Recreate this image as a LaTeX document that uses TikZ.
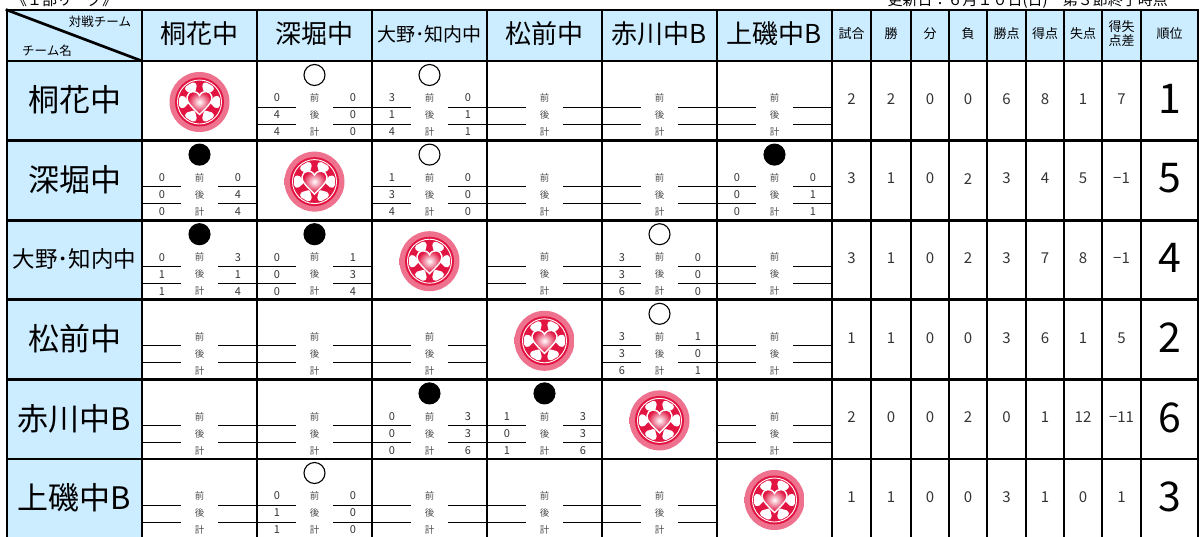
\documentclass[tikz,border=0pt]{standalone}
\usepackage{fontspec}
\setmainfont{Noto Sans CJK JP}
\usepackage{xcolor}
\usepackage{tikz}

\definecolor{headblue}{RGB}{204,236,255}
\definecolor{ballred}{RGB}{226,20,66}

\pgfdeclareradialshading{ballglow}{\pgfpoint{0bp}{0bp}}{%
  color(0bp)=(ballred!60); color(38bp)=(ballred!60); color(41bp)=(ballred!35); color(50bp)=(white)}
\pgfdeclareradialshading{heartglow}{\pgfpoint{0bp}{0bp}}{%
  color(0bp)=(white); color(8bp)=(ballred!35); color(22bp)=(ballred); color(50bp)=(ballred)}

% labels and rules of one match cell
\newcommand{\blankcell}[2]{%
  \pgfmathsetmacro\cellL{142+115*(#1-1)}
  \pgfmathsetmacro\cellT{61+79.6*(#2-1)}
  \node[halflbl] (p#1#2) at (\cellL+57.5,\cellT+37) {前};
  \node[halflbl] (q#1#2) at (\cellL+57.5,\cellT+54) {後};
  \node[halflbl] (t#1#2) at (\cellL+57.5,\cellT+71) {計};
  \draw[scoreline] (\cellL,\cellT+46) -- ++(39,0) (\cellL+76,\cellT+46) -- ++(39,0);
  \draw[scoreline] (\cellL,\cellT+63) -- ++(39,0) (\cellL+76,\cellT+63) -- ++(39,0);
}
% col, row, mark colour, then first half / second half / total
\newcommand{\scorecell}[9]{%
  \blankcell{#1}{#2}
  \node[resultmark, fill=#3] (mk#1#2) at (\cellL+57.5,\cellT+14) {};
  \node[scorenum] (a#1#2) at (\cellL+20,\cellT+37) {#4};
  \node[scorenum] (b#1#2) at (\cellL+96,\cellT+37) {#5};
  \node[scorenum] (c#1#2) at (\cellL+20,\cellT+54) {#6};
  \node[scorenum] (d#1#2) at (\cellL+96,\cellT+54) {#7};
  \node[scorenum] (e#1#2) at (\cellL+20,\cellT+71) {#8};
  \node[scorenum] (f#1#2) at (\cellL+96,\cellT+71) {#9};
}
\newcommand{\soccerball}[3]{%
  \begin{scope}[shift={(#2,#3)}]
    \coordinate (#1) at (0,0);
    \shade[shading=ballglow] (0,0) circle (30);
    \fill[ballred] (0,0) circle (24.5);
    \draw[white, line width=0.9pt] (0,0) circle (22);
    \foreach \a in {0,60,...,300}
      \fill[white, rounded corners=1.5pt] (\a:9.5) -- (\a-22:17.5) -- (\a-14:21) -- (\a+14:21) -- (\a+22:17.5) -- cycle;
    \shadedraw[shading=heartglow, draw=white, line width=1.4pt]
      (0,12.5) .. controls (-6,6.5) and (-13.5,0) .. (-12.5,-5)
      .. controls (-11.5,-11.5) and (-3,-12.5) .. (0,-6.5)
      .. controls (3,-12.5) and (11.5,-11.5) .. (12.5,-5)
      .. controls (13.5,0) and (6,6.5) .. (0,12.5) -- cycle;
  \end{scope}}

\begin{document}
\begin{tikzpicture}[x=1pt,y=-1pt,
    gridline/.style={line width=2.7pt, line cap=rect},
    scoreline/.style={line width=0.9pt},
    halflbl/.style={font=\fontsize{9.5}{9.5}\selectfont, text=black!70, inner sep=0pt},
    scorenum/.style={font=\fontsize{11}{11}\selectfont, text=black!80, inner sep=0pt},
    resultmark/.style={circle, draw, line width=1.1pt, minimum size=21pt, inner sep=0pt},
    statnum/.style={font=\fontsize{15}{15}\selectfont, text=black!80, inner sep=0pt},
    ranknum/.style={font=\fontsize{41}{41}\selectfont, inner sep=0pt},
    stathead/.style={font=\fontsize{13}{14}\selectfont, align=center, inner sep=0pt}]
  \useasboundingbox (0,0) rectangle (1200,536);
  \clip (0,0) rectangle (1200,536);
  \tikzstyle{toptext}=[font=\fontsize{15}{15}\selectfont, inner sep=0pt]

  % clipped caption line
  \node[toptext, anchor=base west] (league) at (12,5) {《１部リーグ》};
  \node[toptext, anchor=base east] (update) at (1168,5) {更新日：６月１０日(日)　第３節終了時点};

  % shaded header row and name column
  \fill[headblue] (7,10) rectangle (1198,61);
  \fill[headblue] (7,61) rectangle (142,538.6);

  \node[font=\fontsize{12.5}{12.5}\selectfont, inner sep=0pt] (opp) at (100,22) {対戦チーム};
  \node[font=\fontsize{12.5}{12.5}\selectfont, inner sep=0pt] (tname) at (47,51) {チーム名};

  \foreach \name/\fs [count=\i] in {桐花中/26,深堀中/26,大野･知内中/19,松前中/26,赤川中B/26,上磯中B/26}
  {
    \node[font=\fontsize{\fs}{\fs}\selectfont, inner sep=0pt] (h\i) at (142+115*\i-57.5,34) {\name};
  }
  \foreach \name/\fs [count=\i] in {桐花中/31,深堀中/31,大野･知内中/22.5,松前中/31,赤川中B/31,上磯中B/31}
  {
    \node[font=\fontsize{\fs}{\fs}\selectfont, inner sep=0pt] (n\i) at (74.5,61+79.6*\i-79.6+39) {\name};
  }
  \foreach \lbl/\sx [count=\k] in {試合/851.5,勝/891,分/930,負/968,勝点/1006.5,得点/1045,失点/1083,{得失\\点差}/1121.5,順位/1169.5}
  {
    \node[stathead] (sh\k) at (\sx,34) {\lbl};
  }

  % standings
  \foreach \r/\vals in {1/{2,2,0,0,6,8,1,7,1},2/{3,1,0,2,3,4,5,−1,5},3/{3,1,0,2,3,7,8,−1,4},
                        4/{1,1,0,0,3,6,1,5,2},5/{2,0,0,2,0,1,12,−11,6},6/{1,1,0,0,3,1,0,1,3}}
  {
    \foreach \v [count=\k] in \vals
    {
      \pgfmathsetmacro\sx{{851.5,891,930,968,1006.5,1045,1083,1121.5,1169.5}[\k-1]}
      \ifnum\k<9
        \node[statnum] (st\r\k) at (\sx,61+79.6*\r-79.6+38) {\v};
      \else
        \node[ranknum] (st\r\k) at (\sx,61+79.6*\r-79.6+38) {\v};
      \fi
    }
  }

  % own matches
  \foreach \i in {1,...,6}
    \soccerball{ball\i}{142+115*\i-57.5}{61+79.6*\i-79.6+41};

  % match results
  \scorecell{2}{1}{white}{0}{0}{4}{0}{4}{0}
  \scorecell{3}{1}{white}{3}{0}{1}{1}{4}{1}
  \blankcell{4}{1}\blankcell{5}{1}\blankcell{6}{1}
  \scorecell{1}{2}{black}{0}{0}{0}{4}{0}{4}
  \scorecell{3}{2}{white}{1}{0}{3}{0}{4}{0}
  \blankcell{4}{2}\blankcell{5}{2}
  \scorecell{6}{2}{black}{0}{0}{0}{1}{0}{1}
  \scorecell{1}{3}{black}{0}{3}{1}{1}{1}{4}
  \scorecell{2}{3}{black}{0}{1}{0}{3}{0}{4}
  \blankcell{4}{3}
  \scorecell{5}{3}{white}{3}{0}{3}{0}{6}{0}
  \blankcell{6}{3}
  \blankcell{1}{4}\blankcell{2}{4}\blankcell{3}{4}
  \scorecell{5}{4}{white}{3}{1}{3}{0}{6}{1}
  \blankcell{6}{4}
  \blankcell{1}{5}\blankcell{2}{5}
  \scorecell{3}{5}{black}{0}{3}{0}{3}{0}{6}
  \scorecell{4}{5}{black}{1}{3}{0}{3}{1}{6}
  \blankcell{6}{5}
  \blankcell{1}{6}
  \scorecell{2}{6}{white}{0}{0}{1}{0}{1}{0}
  \blankcell{3}{6}\blankcell{4}{6}\blankcell{5}{6}

  % table rules
  \foreach \x in {7,142,257,372,487,602,717,832,871,911,949,987,1026,1064,1102,1141,1198}
    \draw[gridline] (\x,10) -- (\x,538.6);
  \foreach \y in {10,61,140.6,220.2,299.8,379.4,459,538.6}
    \draw[gridline] (7,\y) -- (1198,\y);
  \draw[gridline] (7,10) -- (142,61);
\end{tikzpicture}
\end{document}
